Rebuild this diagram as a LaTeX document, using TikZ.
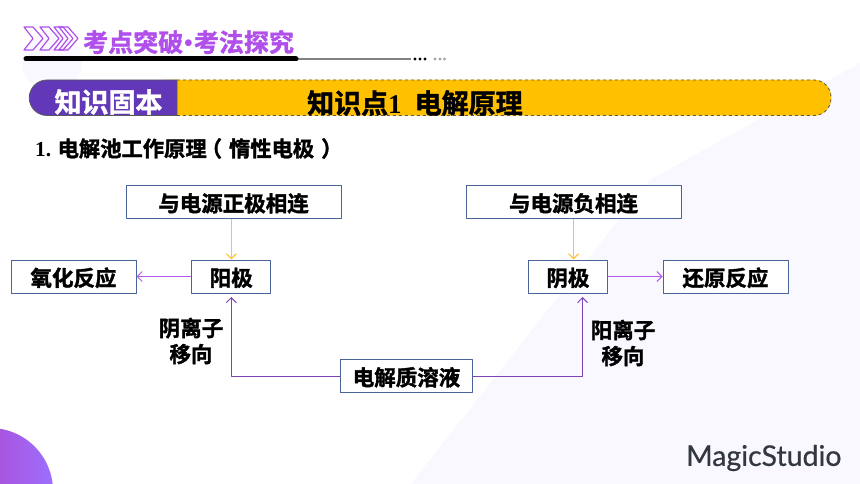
\documentclass[tikz,border=0pt]{standalone}
\usepackage{fontspec}
\setmainfont{Noto Sans CJK SC}
\newfontfamily\cjkbold{Noto Sans CJK SC Bold}[FakeBold=1.6]
\newfontfamily\latinserif{Liberation Serif Bold}
\newfontfamily\logofont{Lato}[FakeBold=0.5]
\usetikzlibrary{arrows.meta}
\definecolor{boxline}{HTML}{4A6398}
\definecolor{yellowline}{HTML}{FFC42E}
\definecolor{lightpurple}{HTML}{B45AF0}
\definecolor{darkpurple}{HTML}{7B45B4}
\definecolor{headpurple}{HTML}{B14FEB}
\definecolor{tagpurple}{HTML}{6238B8}
\definecolor{baryellow}{HTML}{FFC000}
\definecolor{bgtint}{HTML}{F8F8FE}
\definecolor{blobleft}{HTML}{A855E0}
\definecolor{blobright}{HTML}{9C70FF}
\definecolor{logogray}{HTML}{33373F}
\tikzset{
    box/.style={draw=boxline, line width=1pt, fill=white, inner sep=0pt, minimum height=33pt, text height=20pt, text depth=1pt, font=\cjkbold\fontsize{21.5}{21.5}\selectfont},
    sidelabel/.style={align=center, font=\cjkbold\fontsize{21.5}{26}\selectfont},
    power/.style={draw=yellowline, line width=1.1pt, ->},
    react/.style={draw=lightpurple, line width=1pt, ->},
    ion/.style={draw=darkpurple, line width=1pt, ->},
    chevron/.style={draw=headpurple, line width=1.2pt}
}
\begin{document}
\begin{tikzpicture}[x=1pt, y=-1pt, line join=round, >={Straight Barb[length=5pt,width=10pt]}]
    \useasboundingbox (0,0) rectangle (860,484);
    \fill[white] (0,0) rectangle (860,484);
    \fill[bgtint] (411,484) -- (650,180) -- (860,63) -- (860,484) -- cycle;
    \fill[bgtint] (52,62) circle (30);
    \begin{scope}
        \clip (-10,491) circle (63);
        \shade[left color=blobleft, right color=blobright] (0,425) rectangle (55,484);
    \end{scope}
    % heading
    \foreach \x in {0,16,30,35} {
        \draw[chevron] (24+\x,27) -- (33+\x,27) -- (43+\x,38.5) -- (33+\x,50) -- (24+\x,50) -- (33+\x,38.5) -- cycle;
    }
    \node[anchor=west, inner sep=0pt, text=headpurple, font=\cjkbold\fontsize{25}{25}\selectfont] (title) at (83,42) {考点突破\hspace{1pt}{\latinserif •}\hspace{1pt}考法探究};
    \draw[gray, line width=1.5pt] (290,59) -- (411,59);
    \draw[black, line width=5pt, line cap=round] (26,59) -- (296,59);
    \foreach \x in {415,420,425} \fill[black] (\x,59) circle (1.7);
    \foreach \x in {435,440,444.5} \fill[gray!70] (\x,59) circle (1.7);
    % banner
    \draw[baryellow, fill=baryellow, rounded corners=17pt] (150,80) rectangle (831,115.5);
    \draw[gray!70!black, dashed, line width=0.8pt, rounded corners=17pt] (177,80) -- (831,80) -- (831,115.5) -- (177,115.5);
    \fill[tagpurple] (177,80) -- (177,115.5) -- (47,115.5) arc (90:270:17.75) -- cycle;
    \draw[gray!70!black, line width=0.8pt] (177,80) -- (47,80) arc (270:90:17.75) -- (177,115.5) -- cycle;
    \node[inner sep=0pt, text=white, font=\cjkbold\fontsize{27}{27}\selectfont] (tag) at (108.5,102) {知识固本};
    \node[anchor=west, inner sep=0pt, font=\cjkbold\fontsize{27}{27}\selectfont] (topic) at (307,103) {知识点{\latinserif 1}\hspace{13pt}电解原理};
    \node[anchor=west, inner sep=0pt, font=\cjkbold\fontsize{21.3}{21.3}\selectfont] (sub) at (35,148.5) {{\latinserif 1.} 电解池工作原理\hspace{-6pt}（\hspace{7pt}惰性电极\hspace{7pt}）};
    % boxes
    \node[box, minimum width=215pt] (pos) at (233.5,202) {与电源正极相连};
    \node[box, minimum width=215pt] (neg) at (573.5,202) {与电源负相连};
    \node[box, minimum width=79pt] (anode) at (231.3,276.5) {阳极};
    \node[box, minimum width=79pt] (cathode) at (568,276.5) {阴极};
    \node[box, minimum width=125pt] (oxid) at (73.5,276.5) {氧化反应};
    \node[box, minimum width=125pt] (redu) at (725.5,276.5) {还原反应};
    \node[box, minimum width=132pt] (sol) at (406.5,376) {电解质溶液};
    \node[sidelabel] (anion) at (191,341) {阴离子\\移向};
    \node[sidelabel] (cation) at (623,343) {阳离子\\移向};
    \coordinate (anodein) at (231.3,297);
    \coordinate (cathodein) at (582.5,297);
    % arrows
    \draw[power] (pos.south -| anode) -- (anode.north);
    \draw[power] (neg.south) -- (neg.south |- cathode.north);
    \draw[react] (anode.west) -- (oxid.east);
    \draw[react] (cathode.east) -- (redu.west);
    \draw[ion] (sol.west) -| (anodein);
    \draw[ion] (sol.east) -| (cathodein);
    \node[anchor=west, inner sep=0pt, text=logogray, font=\logofont\fontsize{28.5}{28.5}\selectfont] (logo) at (686,458) {MagicStudio};
\end{tikzpicture}
\end{document}
